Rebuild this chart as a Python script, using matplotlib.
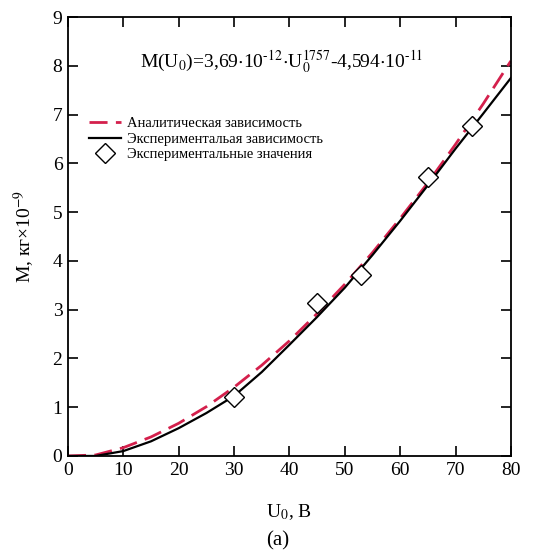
import matplotlib
matplotlib.use("Agg")
import matplotlib.pyplot as plt

plt.rcParams['font.family'] = ['Liberation Serif', 'DejaVu Serif']
plt.rcParams['mathtext.fontset'] = 'stix'

# analytical curve (red dashed)
u_line = [0, 5, 10, 15, 20, 25, 30, 35, 40, 45, 50, 55, 60, 65, 70, 75, 80]
m_analytic = [0.0, 0.02, 0.17, 0.39, 0.67, 1.01, 1.41, 1.86, 2.36, 2.92, 3.52,
              4.17, 4.87, 5.60, 6.39, 7.22, 8.10]
# experimental curve (black solid)
m_exp_curve = [0.0, 0.0, 0.1, 0.3, 0.57, 0.88, 1.23, 1.72, 2.28, 2.85, 3.45,
               4.12, 4.82, 5.55, 6.30, 7.02, 7.75]
# experimental points
u_pts = [30, 45, 53, 65, 73]
m_pts = [1.2, 3.13, 3.72, 5.72, 6.76]

fig = plt.figure(figsize=(5.55, 5.5), dpi=100)
ax = fig.add_axes([0.1225, 0.171, 0.798, 0.798])

ax.plot(u_line, m_analytic, color='#d4204c', lw=2.0, dashes=(6.5, 3),
        label='Аналитическая зависимость')
ax.plot(u_line, m_exp_curve, color='black', lw=1.6,
        label='Экспериментальая зависимость')
ax.plot(u_pts, m_pts, ls='none', marker='D', ms=10, mfc='white', mec='black',
        mew=1.0, label='Экспериментальные значения')

ax.set_xlim(0, 80)
ax.set_ylim(0, 9)
ax.set_xticks(range(0, 81, 10))
ax.set_yticks(range(0, 10))
ax.tick_params(direction='in', length=7, width=1.2, top=True, right=True,
               labelsize=14, pad=4)
for s in ax.spines.values():
    s.set_linewidth(1.3)

ax.set_xlabel('U$_0$, B', fontsize=14, labelpad=17)
ax.set_ylabel('M, кг×10$^{-9}$', fontsize=14, labelpad=12)

ax.text(38.5, 8.07,
        'M(U$_0$)=3,69$\\cdot$10$^{\u201012}$$\\cdot$U$_0^{1757}$'
        '-4,594$\\cdot$10$^{\u201011}$',
        fontsize=14, ha='center', va='center')

ax.legend(loc='upper left', bbox_to_anchor=(0.035, 0.785), frameon=False,
          fontsize=10.5, handlelength=2.2, handletextpad=0.4, labelspacing=0.15,
          borderaxespad=0)

fig.text(0.5, 0.016, '(a)', fontsize=15, ha='center', va='center')

fig.savefig('out.png', dpi=100)
